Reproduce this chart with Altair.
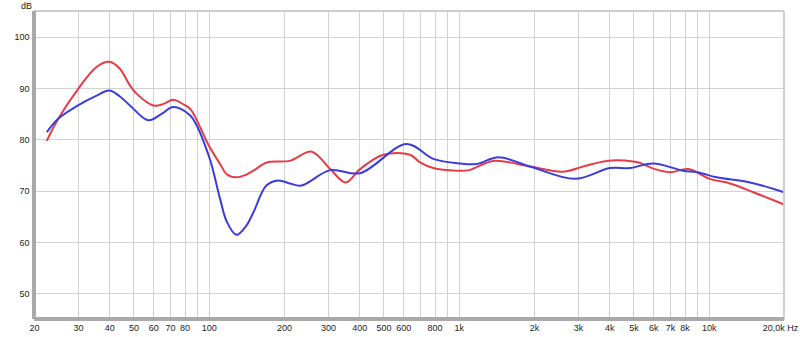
import altair as alt
import pandas as pd

red_f = [22.5, 25, 30, 35.6, 40, 44, 48.4, 51.4, 60, 66, 72, 79.3, 84.5, 100, 111, 118, 129, 141, 151, 171, 211, 258, 306, 353, 403, 499, 638, 700, 791, 981, 1100, 1375, 1928, 2620, 3200, 3908, 4989, 5317, 6000, 7000, 8280, 10090, 12170, 15070, 20000]
red_db = [79.7, 84.0, 89.8, 94.1, 95.1, 93.8, 90.5, 88.9, 86.6, 86.9, 87.7, 86.8, 85.9, 78.8, 75.2, 73.2, 72.6, 73.1, 73.9, 75.5, 75.8, 77.6, 74.2, 71.6, 74.2, 77.0, 77.0, 75.5, 74.4, 73.9, 74.0, 75.8, 74.7, 73.7, 74.8, 75.8, 75.7, 75.4, 74.3, 73.6, 74.2, 72.3, 71.4, 69.7, 67.3]

blue_f = [22.5, 25, 30, 35.6, 40, 44, 48.4, 57.3, 65, 72, 84.5, 100, 111, 118, 129, 141, 151, 170, 190, 211, 235, 306, 403, 619, 791, 1012, 1180, 1440, 1928, 2918, 4028, 4842, 6000, 7880, 9000, 10760, 14620, 20000]
blue_db = [81.4, 84.0, 86.6, 88.5, 89.5, 88.4, 86.6, 83.7, 85.0, 86.3, 84.6, 76.8, 68.4, 64.0, 61.4, 63.1, 65.8, 71.0, 72.0, 71.4, 71.0, 74.0, 73.4, 79.1, 76.2, 75.3, 75.2, 76.5, 74.7, 72.3, 74.4, 74.4, 75.3, 73.9, 73.6, 72.6, 71.6, 69.7]

x_ticks = [20, 30, 40, 50, 60, 70, 80, 90, 100, 200, 300, 400, 500, 600, 700, 800, 900,
           1000, 2000, 3000, 4000, 5000, 6000, 7000, 8000, 9000, 10000, 20000]
y_ticks = [50, 60, 70, 80, 90, 100]

W, H = 750, 308

df = pd.concat([
    pd.DataFrame({"f": red_f, "db": red_db, "s": "red"}),
    pd.DataFrame({"f": blue_f, "db": blue_db, "s": "blue"}),
])

label_expr = (
    "datum.value == 20000 ? '20,0k Hz' : "
    "(datum.value == 90 || datum.value == 700 || datum.value == 900 || datum.value == 9000) ? '' : "
    "datum.value >= 1000 ? (datum.value / 1000) + 'k' : datum.value + ''"
)

xscale = alt.Scale(type="log", domain=[20, 20000], nice=False)
yscale = alt.Scale(domain=[45, 105], nice=False, zero=False)

font = "Liberation Sans"

lines = alt.Chart(df).mark_line(strokeWidth=2, interpolate="catmull-rom").encode(
    x=alt.X("f:Q", scale=xscale, axis=alt.Axis(
        values=x_ticks, labelExpr=label_expr, grid=True, gridColor="#d2d2d2",
        ticks=False, domain=False, labelFont=font, labelFontSize=9, labelColor="#222",
        labelPadding=4, title=None, labelFlush=False,
        labelOffset={"condition": {"test": "datum.value == 20000", "value": -4}, "value": 0},
    )),
    y=alt.Y("db:Q", scale=yscale, axis=alt.Axis(
        values=y_ticks, grid=True, gridColor="#d2d2d2", ticks=False, domain=False,
        labelFont=font, labelFontSize=9, labelColor="#222", labelPadding=5,
        title="dB", titleAngle=0, titleX=-8, titleY=-6, titleAlign="center",
        titleBaseline="middle", titleFont=font, titleFontSize=9, titleFontWeight="normal",
        titleColor="#222",
    )),
    color=alt.Color("s:N", scale=alt.Scale(domain=["red", "blue"], range=["#e63c46", "#3c3cdc"]), legend=None),
    order=alt.Order("s:N", sort="descending"),
)

top = alt.Chart(df).mark_rule(color="#cfcfcf", strokeWidth=2).encode(
    x=alt.value(0), x2=alt.value(W), y=alt.value(0))
right = alt.Chart(df).mark_rule(color="#cfcfcf", strokeWidth=2).encode(
    x=alt.value(W), y=alt.value(0), y2=alt.value(H))
left = alt.Chart(df).mark_rule(color="#a9a9a9", strokeWidth=3).encode(
    x=alt.value(0), y=alt.value(0), y2=alt.value(H))
bottom = alt.Chart(df).mark_rule(color="#a9a9a9", strokeWidth=3).encode(
    x=alt.value(0), x2=alt.value(W), y=alt.value(H))

chart = alt.layer(lines, top, right, left, bottom).properties(
    width=W, height=H,
    autosize=alt.AutoSizeParams(type="none"),
    padding={"left": 34, "top": 11, "right": 16, "bottom": 18},
).configure_view(stroke=None).configure(background="white")

chart.save("out.html", embed_options={"renderer": "svg", "actions": False})
